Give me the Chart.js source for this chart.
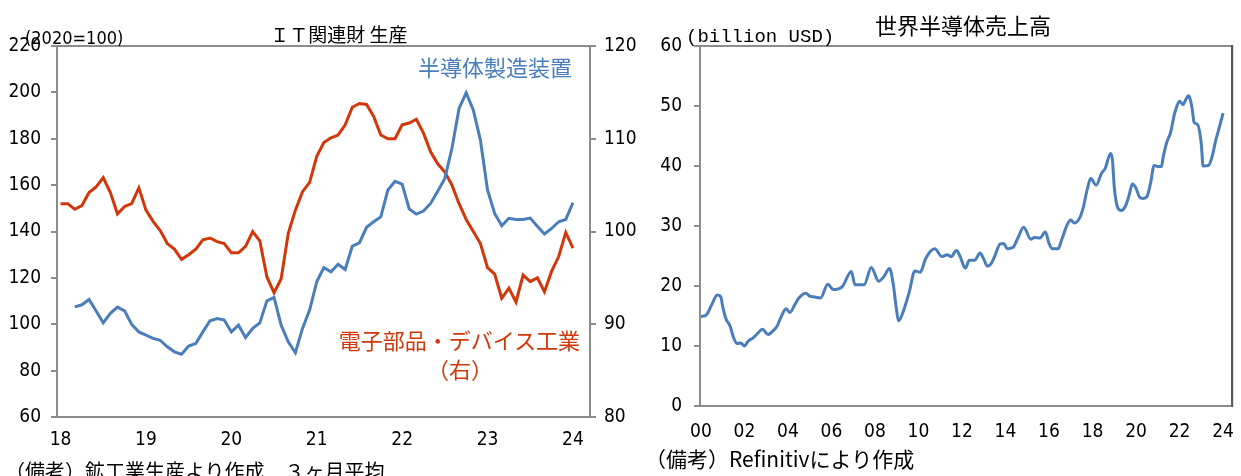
<!DOCTYPE html>
<html>
<head>
<meta charset="utf-8">
<script src="https://cdn.jsdelivr.net/npm/chart.js@4/dist/chart.umd.min.js"></script>
<style>
  body { margin: 0; background: #fff; width: 1241px; height: 476px; overflow: hidden; position: relative;
         font-family: "Noto Sans CJK JP", sans-serif; }
  canvas { position: absolute; top: 0; }
  .t { position: absolute; white-space: nowrap; line-height: 1; color: #000; }
</style>
</head>
<body>
<canvas id="it" width="645" height="476" style="left:0"></canvas>
<canvas id="semi" width="601" height="476" style="left:640px"></canvas>

<div class="t" style="left:25px;top:27px;font:18px 'DejaVu Sans Condensed','Liberation Sans',sans-serif">(2020=100)</div>
<div class="t" style="left:239px;width:200px;text-align:center;top:24px;font-size:19px">ＩＴ関連財 生産</div>
<div class="t" style="left:400px;width:172px;text-align:right;top:55px;font-size:22px;color:#4a7ebb">半導体製造装置</div>
<div class="t" style="left:330px;width:250px;text-align:right;top:328px;font-size:22px;color:#d2370a">電子部品・デバイス工業</div>
<div class="t" style="left:410px;width:100px;text-align:center;top:357px;font-size:22px;color:#d2370a">（右）</div>
<div class="t" style="left:5px;top:461px;font-size:20px">（備考）鉱工業生産より作成　３ヶ月平均</div>

<div class="t" style="left:863px;width:200px;text-align:center;top:13px;font-size:22px">世界半導体売上高</div>
<div class="t" style="left:686px;top:26px;font:19px 'Liberation Mono','DejaVu Sans Mono',monospace">(billion USD)</div>
<div class="t" style="left:645px;top:448px;font-size:21px">（備考）Refinitivにより作成</div>

<script>
// IT関連財 生産 : 月次 (2018年1月 = 0)
const itTicks = [0, 12, 24, 36, 48, 60, 72];
const itLabels = ['18', '19', '20', '21', '22', '23', '24'];

// 電子部品・デバイス工業 (右軸) 2018/1 - 2024/1
const elecParts = [
  103.0, 103.0, 102.4, 102.8, 104.2, 104.8, 105.8, 104.2, 101.9, 102.7, 103.0, 104.7,
  102.3, 101.1, 100.1, 98.7, 98.1, 97.0, 97.5, 98.1, 99.1, 99.3, 98.9, 98.7,
  97.7, 97.7, 98.4, 100.0, 99.0, 95.1, 93.4, 94.9, 99.8, 102.3, 104.3, 105.3,
  108.1, 109.6, 110.1, 110.4, 111.5, 113.4, 113.8, 113.7, 112.4, 110.4, 110.0, 110.0,
  111.5, 111.7, 112.1, 110.6, 108.6, 107.3, 106.4, 105.0, 103.0, 101.3, 100.0, 98.7,
  96.1, 95.4, 92.8, 93.9, 92.4, 95.3, 94.6, 95.0, 93.5, 95.7, 97.3, 99.9, 98.2
];

// 半導体製造装置 (左軸) 2018/3 - 2024/1
const semiEquipStart = 2;
const semiEquip = [
  107.5, 108.4, 110.7, 105.7, 100.6, 104.7, 107.4, 105.8, 99.9, 96.7,
  95.3, 93.9, 93.1, 90.3, 88.1, 87.1, 90.6, 91.7, 96.7, 101.5, 102.5, 101.8,
  96.7, 99.6, 94.3, 98.2, 100.6, 110.1, 111.6, 99.6, 92.4, 87.7, 98.2, 106.1,
  118.3, 124.4, 122.6, 125.9, 123.6, 133.7, 135.1, 141.8, 144.2, 146.3, 157.9, 161.6,
  160.4, 149.7, 147.5, 148.8, 152.1, 157.4, 162.9, 175.9, 193.1, 199.8, 192.4, 179.4,
  157.9, 147.8, 142.5, 145.7, 145.2, 145.2, 145.8, 142.3, 138.9, 141.3, 144.2, 145.2, 152.4
];

// 世界半導体売上高 : 2000年1月からの月数と値
const salesMonth = [
  0, 3, 6, 9, 11, 12, 14, 16, 18, 20, 22, 24, 26, 29, 31, 34, 37, 40, 42, 44,
  47, 49, 52, 54, 58, 60, 62, 66, 70, 73, 78, 83, 85, 90, 94, 98, 101, 104, 106, 108,
  109, 112, 115, 118, 121, 124, 129, 133, 136, 138, 141, 143, 145, 146, 148, 151, 154, 156, 158, 160,
  162, 165, 167, 169, 172, 175, 178, 182, 184, 187, 190, 192, 194, 197, 199, 202, 204, 206, 209, 211,
  213, 215, 218, 221, 223, 226, 227, 228, 230, 232, 234, 236, 238, 240, 242, 244, 246, 248, 250, 252,
  254, 255, 257, 259, 261, 262, 264, 266, 267, 269, 271, 272, 274, 276, 277, 280, 282, 284, 286, 288
];
const salesValue = [
  14.9, 15.2, 16.9, 18.5, 18.2, 16.6, 14.4, 13.4, 11.4, 10.4, 10.5, 10.0, 10.8, 11.4, 12.0, 12.8, 11.9, 12.6, 13.3, 14.7,
  16.2, 15.6, 17.0, 18.0, 18.8, 18.3, 18.2, 18.0, 20.3, 19.4, 19.9, 22.4, 20.2, 20.2, 23.1, 20.8, 21.6, 22.9, 20.5, 15.8,
  14.2, 16.1, 19.1, 22.5, 22.3, 24.6, 26.2, 24.9, 25.2, 24.9, 25.9, 24.9, 23.3, 23.0, 24.3, 24.3, 25.5, 24.5, 23.3, 23.7,
  24.9, 27.0, 27.1, 26.2, 26.4, 28.1, 29.8, 27.8, 28.1, 28.0, 29.0, 27.1, 26.2, 26.2, 27.7, 30.2, 31.0, 30.5, 31.4, 33.2,
  36.0, 37.9, 36.8, 38.8, 39.6, 42.1, 41.0, 36.5, 33.0, 32.6, 33.2, 34.9, 37.0, 36.3, 34.8, 34.6, 34.9, 37.1, 40.1, 39.9,
  39.9, 41.5, 44.0, 45.5, 48.4, 49.5, 50.8, 50.2, 50.8, 51.7, 49.5, 47.3, 46.9, 43.7, 40.0, 40.1, 41.6, 44.3, 46.5, 48.8
];
const salesTicks = [0, 24, 48, 72, 96, 120, 144, 168, 192, 216, 240, 264, 288];
const salesLabels = ['00', '02', '04', '06', '08', '10', '12', '14', '16', '18', '20', '22', '24'];

const blue = '#4a7ebb';
const red = '#d2370a';
const axisGray = '#8c8c8c';

Chart.defaults.font.family = "'Liberation Sans Narrow','DejaVu Sans Condensed','Liberation Sans',sans-serif";
Chart.defaults.font.size = 19;
Chart.defaults.color = '#000';

// 枠線
const frame = {
  id: 'frame',
  afterDraw(chart, args, opts) {
    const a = chart.chartArea;
    const c = chart.ctx;
    c.save();
    c.lineWidth = 2;
    c.strokeStyle = axisGray;
    c.strokeRect(a.left, a.top, a.right - a.left, a.bottom - a.top);
    if (opts.rightColor) {
      c.strokeStyle = opts.rightColor;
      c.beginPath();
      c.moveTo(a.right, a.top - 1);
      c.lineTo(a.right, a.bottom + 1);
      c.stroke();
    }
    c.restore();
  }
};

function fixWidth(w) { return (scale) => { scale.width = w; }; }
function fixHeight(h) { return (scale) => { scale.height = h; }; }

new Chart(document.getElementById('it'), {
  type: 'line',
  data: {
    datasets: [{
      label: '半導体製造装置',
      data: semiEquip.map((v, i) => ({ x: i + semiEquipStart, y: v })),
      borderColor: blue,
      borderWidth: 3,
      pointRadius: 0,
      yAxisID: 'y'
    }, {
      label: '電子部品・デバイス工業（右）',
      data: elecParts.map((v, i) => ({ x: i, y: v })),
      borderColor: red,
      borderWidth: 3,
      pointRadius: 0,
      yAxisID: 'y2'
    }]
  },
  options: {
    responsive: false,
    animation: false,
    layout: { padding: { top: 46, left: 0, right: 0, bottom: 0 } },
    plugins: { legend: { display: false }, tooltip: { enabled: false }, frame: {} },
    scales: {
      x: {
        type: 'linear',
        min: -0.5,
        max: 74.4,
        grid: { display: false },
        border: { display: false },
        afterBuildTicks: (scale) => { scale.ticks = itTicks.map(v => ({ value: v })); },
        afterFit: fixHeight(59),
        ticks: { padding: 4, maxRotation: 0, callback: (v, i) => itLabels[i] }
      },
      y: {
        position: 'left',
        min: 60,
        max: 220,
        grid: { drawOnChartArea: false, drawTicks: true, tickLength: 6, color: axisGray, lineWidth: 2 },
        border: { display: false },
        afterFit: fixWidth(57),
        ticks: { stepSize: 20, padding: 10 }
      },
      y2: {
        position: 'right',
        min: 80,
        max: 120,
        grid: { drawOnChartArea: false, drawTicks: true, tickLength: 6, color: axisGray, lineWidth: 2 },
        border: { display: false },
        afterFit: fixWidth(55),
        ticks: { stepSize: 10, padding: 8 }
      }
    }
  },
  plugins: [frame]
});

new Chart(document.getElementById('semi'), {
  type: 'line',
  data: {
    datasets: [{
      label: '世界半導体売上高',
      data: salesMonth.map((m, i) => ({ x: m, y: salesValue[i] })),
      borderColor: blue,
      borderWidth: 3,
      pointRadius: 0,
      cubicInterpolationMode: 'monotone'
    }]
  },
  options: {
    responsive: false,
    animation: false,
    layout: { padding: { top: 46, left: 0, right: 5, bottom: 0 } },
    plugins: { legend: { display: false }, tooltip: { enabled: false }, frame: { rightColor: '#555' } },
    scales: {
      x: {
        type: 'linear',
        min: -0.5,
        max: 293,
        grid: { display: false },
        border: { display: false },
        afterBuildTicks: (scale) => { scale.ticks = salesTicks.map(v => ({ value: v })); },
        afterFit: fixHeight(70),
        ticks: { padding: 7, maxRotation: 0, callback: (v, i) => salesLabels[i] }
      },
      y: {
        min: 0,
        max: 60,
        grid: { drawOnChartArea: false, drawTicks: true, tickLength: 6, color: axisGray, lineWidth: 2 },
        border: { display: false },
        afterFit: fixWidth(60),
        ticks: { stepSize: 10, padding: 12 }
      }
    }
  },
  plugins: [frame]
});
</script>
</body>
</html>
